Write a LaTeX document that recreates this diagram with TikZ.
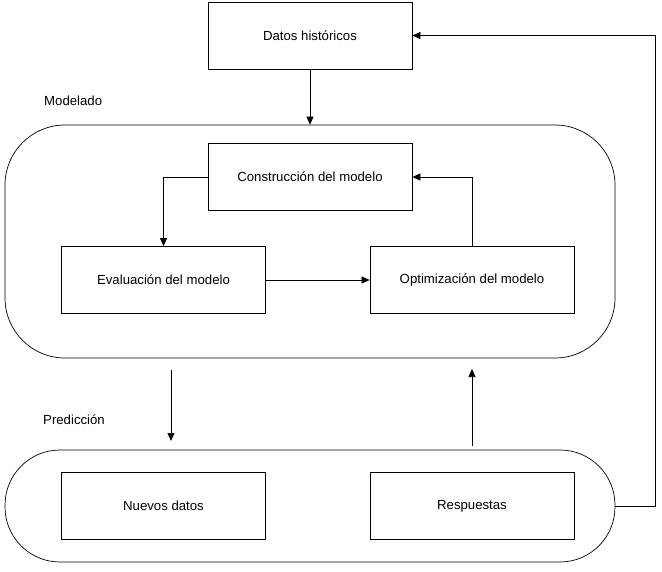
\documentclass[tikz,border=0pt]{standalone}
\usepackage{fontspec}
\setmainfont{Liberation Sans}
\usetikzlibrary{arrows.meta}

\begin{document}
\begin{tikzpicture}[x=1pt, y=-1pt,
  caja/.style={draw, line width=0.8pt, minimum width=204pt, minimum height=67pt,
    inner sep=0pt, font=\fontsize{13.2}{15}\selectfont},
  bloque/.style={draw, line width=0.7pt, minimum width=610pt, inner sep=0pt},
  etiqueta/.style={anchor=west, inner sep=0pt, font=\fontsize{13.2}{15}\selectfont},
  flecha/.style={line width=0.7pt, -{Triangle[length=8pt,width=7pt]}}]

\newcommand\ANCHO{662}
\newcommand\ALTO{571}

\useasboundingbox (0,0) rectangle (\ANCHO,\ALTO);

%% bloques
\node[bloque, minimum height=233pt, rounded corners=60pt] (modelado) at (310,241.5) {};
\node[bloque, minimum height=112pt, rounded corners=55pt] (prediccion) at (310,506) {};

\node[etiqueta] (lmodelado) at (44,101) {Modelado};
\node[etiqueta] (lprediccion) at (43,420) {Predicción};

%% cajas
\node[caja] (datos) at (310,35.5) {Datos históricos};
\node[caja] (construccion) at (310,177) {Construcción del modelo};
\node[caja] (evaluacion) at (163.5,280) {Evaluación del modelo};
\node[caja] (optimizacion) at (472,280) {Optimización del modelo};
\node[caja] (nuevos) at (163.5,506) {Nuevos datos};
\node[caja] (respuestas) at (472,506) {Respuestas};

%% flechas
\draw[flecha] (datos) -- (modelado.north);

\draw[flecha] (construccion.west) -| (evaluacion.north);
\draw[flecha] (evaluacion) -- (optimizacion);
\draw[flecha] (optimizacion.north) |- (construccion.east);

\coordinate (bajaA) at (171,370);
\coordinate (bajaB) at (171,441);
\draw[flecha] (bajaA) -- (bajaB);

\coordinate (subeA) at (472,446);
\coordinate (subeB) at (472,369);
\draw[flecha] (subeA) -- (subeB);

\coordinate (vuelta) at (655,506);
\draw[flecha] (prediccion.east) -- (vuelta) |- (datos.east);

\end{tikzpicture}
\end{document}
